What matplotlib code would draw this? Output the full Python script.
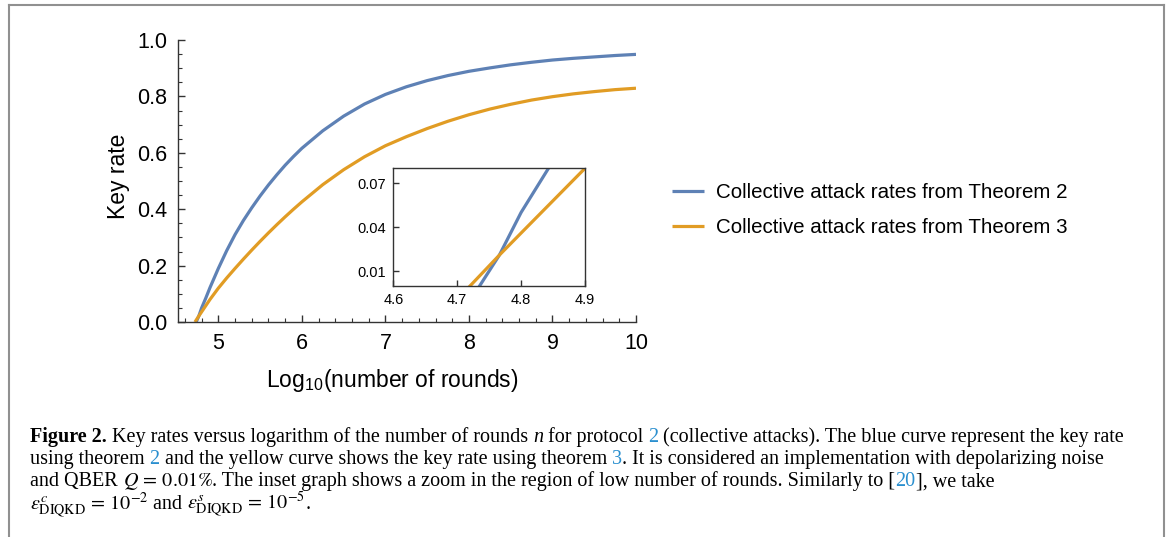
import matplotlib
matplotlib.use('Agg')
import matplotlib.pyplot as plt
from matplotlib.ticker import MultipleLocator, FixedLocator

plt.rcParams['font.family'] = ['Liberation Sans', 'DejaVu Sans']
plt.rcParams['mathtext.fontset'] = 'stix'

# values
rounds_t2 = [4.735, 4.766, 4.80, 4.85, 4.90, 5.00, 5.10, 5.20, 5.30, 5.40, 5.50, 5.60,
             5.70, 5.80, 5.90, 6.00, 6.25, 6.50, 6.75, 7.00, 7.25, 7.50, 7.75, 8.00,
             8.25, 8.50, 8.75, 9.00, 9.25, 9.50, 9.75, 10.0]
rate_t2 = [0.0, 0.021, 0.05, 0.085, 0.122, 0.19, 0.253, 0.31, 0.36, 0.405, 0.447, 0.486,
           0.522, 0.556, 0.587, 0.616, 0.678, 0.73, 0.773, 0.807, 0.834, 0.856, 0.874, 0.889,
           0.901, 0.912, 0.921, 0.929, 0.935, 0.940, 0.945, 0.949]

rounds_t3 = [4.72, 4.766, 4.80, 4.90, 5.00, 5.10, 5.20, 5.30, 5.40, 5.50, 5.60, 5.70,
             5.80, 5.90, 6.00, 6.25, 6.50, 6.75, 7.00, 7.25, 7.50, 7.75, 8.00, 8.25,
             8.50, 8.75, 9.00, 9.25, 9.50, 9.75, 10.0]
rate_t3 = [0.0, 0.021, 0.036, 0.08, 0.12, 0.156, 0.19, 0.223, 0.255, 0.286, 0.316, 0.345,
           0.373, 0.40, 0.426, 0.487, 0.54, 0.586, 0.625, 0.657, 0.686, 0.712, 0.735, 0.755,
           0.772, 0.787, 0.799, 0.809, 0.817, 0.824, 0.829]

labels = ['Collective attack rates from Theorem 2', 'Collective attack rates from Theorem 3']
main_xticks = [5, 6, 7, 8, 9, 10]
main_yticks = [0.0, 0.2, 0.4, 0.6, 0.8, 1.0]
inset_xticks = [4.6, 4.7, 4.8, 4.9]
inset_yticks = [0.01, 0.04, 0.07]

blue = '#5E81B5'
orange = '#E19C24'
axis_col = '#333333'
link_col = '#2a8fcf'

W, H = 1169, 537
fig = plt.figure(figsize=(W / 100, H / 100), dpi=100)


def fx(px):
    return px / W


def fy(py):
    return 1 - py / H


# main plot
ax = fig.add_axes([fx(178), fy(322), fx(636 - 178), (322 - 40) / H])
l1, = ax.plot(rounds_t2, rate_t2, color=blue, lw=2.3, solid_capstyle='butt')
l2, = ax.plot(rounds_t3, rate_t3, color=orange, lw=2.3, solid_capstyle='butt')
ax.set_xlim(4.517, 10)
ax.set_ylim(0, 1.0)
ax.xaxis.set_major_locator(FixedLocator(main_xticks))
ax.xaxis.set_minor_locator(MultipleLocator(0.2))
ax.yaxis.set_major_locator(FixedLocator(main_yticks))
ax.yaxis.set_minor_locator(MultipleLocator(0.05))
ax.set_yticklabels(['%.1f' % v for v in main_yticks])
for s in ['top', 'right']:
    ax.spines[s].set_visible(False)
for s in ['left', 'bottom']:
    ax.spines[s].set_color(axis_col)
    ax.spines[s].set_linewidth(1.0)
ax.tick_params(which='both', direction='in', colors=axis_col, labelcolor='black',
               labelsize=15.5)
ax.tick_params(which='major', length=5, width=1.0)
ax.tick_params(which='minor', length=3, width=0.8)
ax.tick_params(axis='x', pad=8)
ax.tick_params(axis='y', pad=8)
ax.set_xlabel(r'Log$_\mathregular{10}$(number of rounds)', fontsize=16.5)
ax.set_ylabel('Key rate', fontsize=16.5)
ax.xaxis.set_label_coords((392 - 178) / (636 - 178), -(380 - 322) / (322 - 40))
ax.yaxis.set_label_coords(-(178 - 118) / (636 - 178), (322 - 176) / (322 - 40))
ax.xaxis.label.set_va('center')
ax.yaxis.label.set_va('center')

# inset
ins = fig.add_axes([fx(393.3), fy(286), fx(585 - 393.3), (286 - 168.3) / H])
ins.plot(rounds_t2, rate_t2, color=blue, lw=2.3)
ins.plot(rounds_t3, rate_t3, color=orange, lw=2.3)
ins.set_xlim(4.6, 4.9)
ins.set_ylim(0, 0.08)
ins.set_xticks(inset_xticks)
ins.set_xticklabels(['%.1f' % v for v in inset_xticks])
ins.set_yticks(inset_yticks)
ins.set_yticklabels(['%.2f' % v for v in inset_yticks])
for s in ins.spines.values():
    s.set_color(axis_col)
    s.set_linewidth(1.0)
ins.tick_params(direction='in', length=4, width=1.0, colors=axis_col,
                labelcolor='black', labelsize=10.5, pad=5)

# legend
fig.legend([l1, l2], labels, loc='upper left', bbox_to_anchor=(fx(672), fy(183.5)),
           frameon=False, fontsize=14.8, handlelength=1.55, handletextpad=0.58,
           labelspacing=0.75, borderpad=0, borderaxespad=0)

# page frame
frame_col = '#909090'
fig.add_artist(plt.Line2D([fx(8.5), fx(8.5)], [fy(5), 0], transform=fig.transFigure,
                          color=frame_col, lw=1.5))
fig.add_artist(plt.Line2D([fx(8.5), fx(1163.5)], [fy(5), fy(5)], transform=fig.transFigure,
                          color=frame_col, lw=1.5))
fig.add_artist(plt.Line2D([fx(1163.5), fx(1163.5)], [fy(5), 0], transform=fig.transFigure,
                          color=frame_col, lw=1.5))

# caption
renderer = fig.canvas.get_renderer()
cap_kw = dict(family='Liberation Serif', fontsize=14.5)


def seg_width(s, **kw):
    t1 = fig.text(0, 0, s + '|', **kw)
    t2 = fig.text(0, 0, '|', **kw)
    w = t1.get_window_extent(renderer).width - t2.get_window_extent(renderer).width
    t1.remove()
    t2.remove()
    return w


def caption_line(y, segments, x0=30):
    x = x0
    for text, extra in segments:
        kw = dict(cap_kw)
        kw.update(extra)
        fig.text(fx(x), fy(y), text, va='baseline', ha='left', **kw)
        x += seg_width(text, **kw)


caption_line(442, [
    ('Figure 2.', {'weight': 'bold'}),
    (' Key rates versus logarithm of the number of rounds ', {}),
    ('n', {'style': 'italic'}),
    (' for protocol ', {}),
    ('2', {'color': link_col}),
    (' (collective attacks). The blue curve represent the key rate', {}),
])
caption_line(464, [
    ('using theorem ', {}),
    ('2', {'color': link_col}),
    (' and the yellow curve shows the key rate using theorem ', {}),
    ('3', {'color': link_col}),
    ('. It is considered an implementation with depolarizing noise', {}),
])
caption_line(486, [
    ('and QBER ', {}),
    (r'$Q\,=\,0.01\%$', {}),
    ('. The inset graph shows a zoom in the region of low number of rounds. Similarly to [', {}),
    ('20', {'color': link_col}),
    ('], we take', {}),
])
caption_line(509, [
    (r'$\epsilon^{c}_{\mathrm{DIQKD}}\,=\,10^{-2}$', {}),
    (' and ', {}),
    (r'$\epsilon^{s}_{\mathrm{DIQKD}}\,=\,10^{-5}$', {}),
    ('.', {}),
])

fig.savefig('out.png', dpi=100)
